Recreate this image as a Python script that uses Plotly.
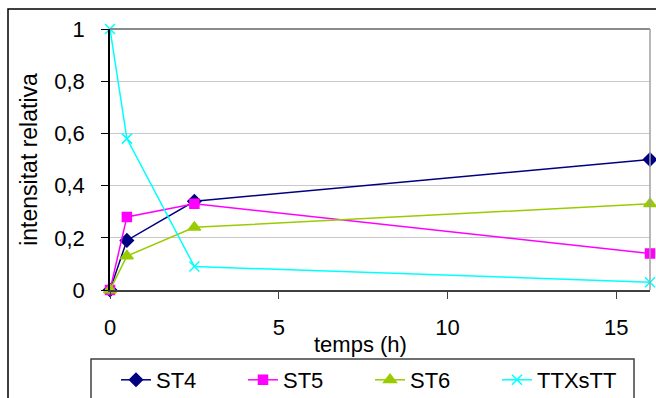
import plotly.graph_objects as go

# Sampling times (hours)
temps = [0, 0.5, 2.5, 16]

# Relative intensity per species
st4 = [0, 0.19, 0.34, 0.50]
st5 = [0, 0.28, 0.33, 0.14]
st6 = [0, 0.13, 0.24, 0.33]
ttxstt = [1, 0.58, 0.09, 0.03]

x_ticks = [0, 5, 10, 15]
y_ticks = [0, 0.2, 0.4, 0.6, 0.8, 1]

FONT = "Liberation Sans, Arial, sans-serif"

series = [
    ("ST4", st4, "#000080", "diamond", 10),
    ("ST5", st5, "#FF00FF", "square", 9),
    ("ST6", st6, "#99CC00", "triangle-up", 11),
    ("TTXsTT", ttxstt, "#00FFFF", "x-thin", 10),
]

fig = go.Figure()
for name, vals, color, symbol, size in series:
    fig.add_trace(go.Scatter(
        x=temps, y=vals, name=name, mode="lines+markers",
        line=dict(color=color, width=1.5),
        marker=dict(symbol=symbol, size=size, color=color,
                    line=dict(color=color, width=1.5)),
        cliponaxis=False,
    ))

W, H = 656, 398
L, R, T, B = 110, 6, 29, 108

def px_x(p):
    return (p - L) / (W - L - R)

def px_y(p):
    return (H - B - p) / (H - T - B)

shapes = [
    # outer chart frame
    dict(type="rect", xref="paper", yref="paper",
         x0=px_x(8), x1=px_x(662), y0=px_y(9), y1=px_y(404),
         line=dict(color="#000000", width=1.5), layer="below"),
    # plot area top and right edges
    dict(type="line", xref="paper", yref="paper",
         x0=0, x1=1, y0=1, y1=1, line=dict(color="#8c8c8c", width=2)),
    dict(type="line", xref="paper", yref="paper",
         x0=1, x1=1, y0=0, y1=1, line=dict(color="#a0a0a0", width=1.5)),
    # legend frame
    dict(type="rect", xref="paper", yref="paper",
         x0=px_x(91), x1=px_x(634), y0=px_y(359), y1=px_y(404),
         line=dict(color="#404040", width=1.5), layer="below"),
]

annotations = [
    dict(text="temps (h)", xref="paper", yref="paper",
         x=px_x(360), y=px_y(344), xanchor="center", yanchor="middle",
         showarrow=False, font=dict(family=FONT, size=22, color="black")),
]

fig.update_layout(
    width=W, height=H,
    margin=dict(l=L, r=R, t=T, b=B, autoexpand=False),
    paper_bgcolor="white", plot_bgcolor="white",
    separators=",.",
    font=dict(family=FONT, size=22, color="black"),
    showlegend=True,
    hovermode=False,
    legend=dict(
        orientation="h", x=px_x(116), y=px_y(380),
        xanchor="left", yanchor="middle",
        entrywidth=82, entrywidthmode="pixels",
        font=dict(family=FONT, size=22, color="black"),
        bgcolor="rgba(0,0,0,0)", borderwidth=0,
        traceorder="normal",
    ),
    shapes=shapes,
    annotations=annotations,
    xaxis=dict(
        range=[0, 16], tickvals=x_ticks,
        showgrid=False, zeroline=False, automargin=False,
        showline=True, linecolor="#404040", linewidth=2,
        ticks="outside", ticklen=7, tickcolor="#404040", tickwidth=1,
        ticklabelstandoff=10,
        tickfont=dict(family=FONT, size=22),
    ),
    yaxis=dict(
        range=[0, 1], tickvals=y_ticks,
        showgrid=True, gridcolor="#c8c8c8", gridwidth=1,
        zeroline=False, automargin=False,
        showline=True, linecolor="#000000", linewidth=1.5,
        ticks="outside", ticklen=7, tickcolor="#000000", tickwidth=1,
        ticklabelstandoff=12,
        tickfont=dict(family=FONT, size=22),
        title=dict(text="intensitat relativa", font=dict(family=FONT, size=23), standoff=10),
    ),
)

fig.write_html("out.html")
